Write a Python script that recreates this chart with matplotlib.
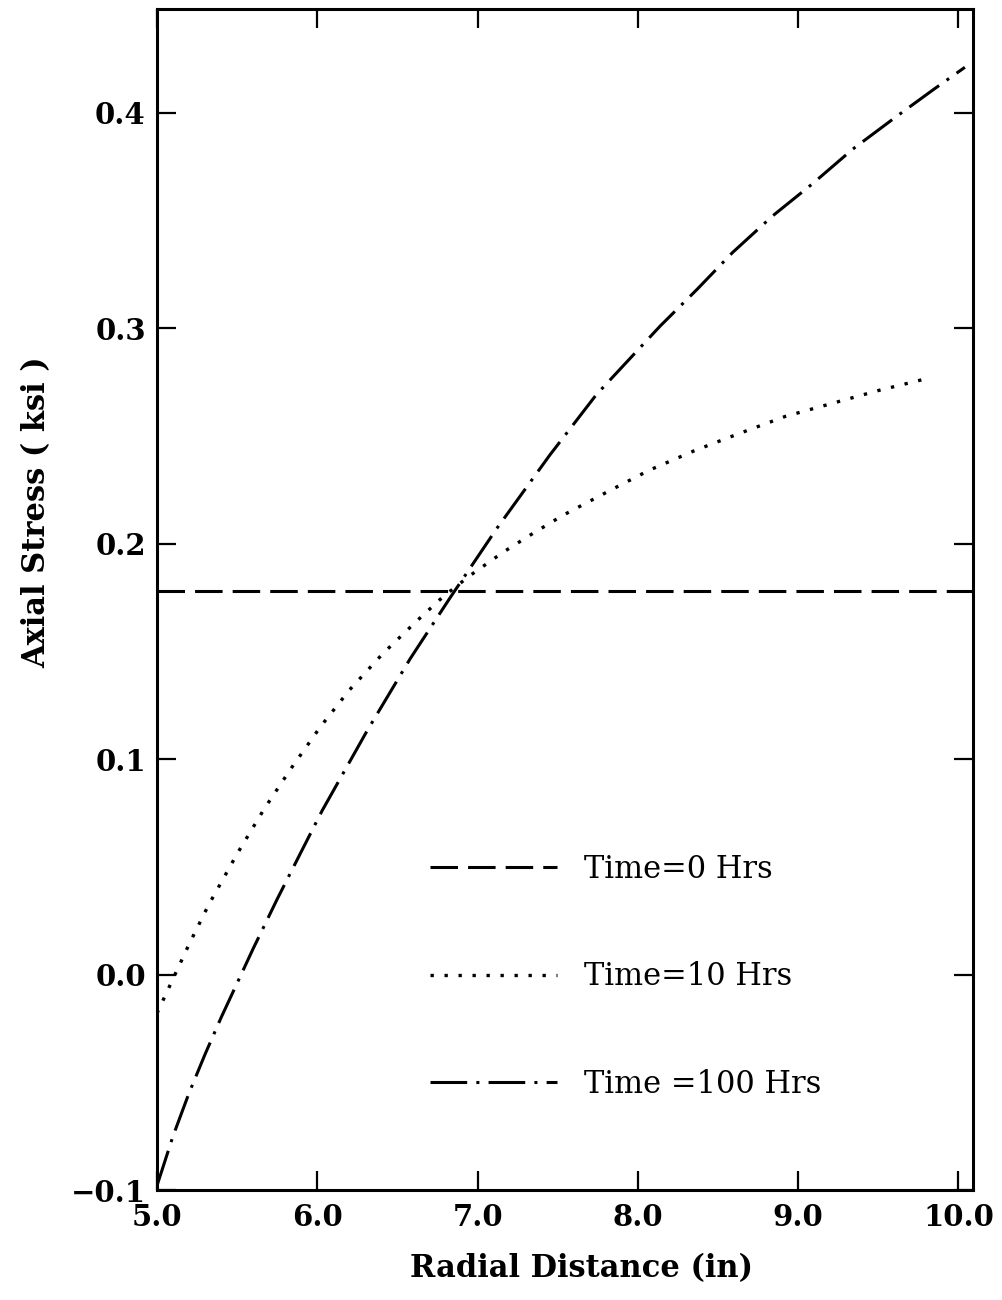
import numpy as np
import matplotlib
matplotlib.use("Agg")
import matplotlib.pyplot as plt

# data
r_0 = [5.0, 10.09]
s_0 = [0.178, 0.178]

r_10 = [5.0, 5.10, 5.20, 5.32, 5.50, 5.67, 5.84, 6.02, 6.20, 6.41, 6.62, 6.78,
        6.95, 7.16, 7.33, 7.53, 7.81, 8.07, 8.35, 8.63, 8.92, 9.21, 9.50, 9.80]
s_10 = [-0.018, -0.002, 0.014, 0.032, 0.056, 0.077, 0.096, 0.115, 0.132, 0.149, 0.164, 0.175,
        0.185, 0.196, 0.204, 0.213, 0.224, 0.234, 0.243, 0.251, 0.259, 0.265, 0.271, 0.2765]

r_100 = [5.0, 5.10, 5.20, 5.30, 5.40, 5.50, 5.60, 5.75, 5.90, 6.03, 6.31, 6.58, 6.83, 7.12,
         7.45, 7.74, 7.99, 8.14, 8.37, 8.59, 8.84, 9.09, 9.34, 9.61, 9.85, 10.04]
s_100 = [-0.098, -0.075, -0.055, -0.037, -0.020, -0.004, 0.012, 0.035, 0.057, 0.076, 0.113, 0.1466,
         0.175, 0.207, 0.241, 0.269, 0.289, 0.301, 0.318, 0.335, 0.352, 0.367, 0.383, 0.398, 0.411, 0.421]

labels = ['Time=0 Hrs', 'Time=10 Hrs', 'Time =100 Hrs']

x_ticks = [5.0, 6.0, 7.0, 8.0, 9.0, 10.0]
x_tick_labels = ['5.0', '6.0', '7.0', '8.0', '9.0', '10.0']
y_ticks = [-0.1, 0.0, 0.1, 0.2, 0.3, 0.4]
y_tick_labels = ['\u22120.1', '0.0', '0.1', '0.2', '0.3', '0.4']

plt.rcParams['font.family'] = ['DejaVu Serif']

fig = plt.figure(figsize=(10.03, 13.0), dpi=100)
ax = fig.add_axes([0.1565, 0.0846, 0.8135, 0.9084])

lw = 2.2
ax.plot(r_0, s_0, color='black', lw=lw, linestyle=(0, (9, 3.3)), label=labels[0])
ax.plot(r_10, s_10, color='black', lw=2.4, linestyle=(0, (1, 3.2)), label=labels[1])
ax.plot(r_100, s_100, color='black', lw=lw, linestyle=(0, (12, 3, 1, 3)), label=labels[2])

ax.set_xlim(5.0, 10.09)
ax.set_ylim(-0.1, 0.448)

ax.set_xticks(x_ticks)
ax.set_xticklabels(x_tick_labels, fontsize=21, fontweight='bold')
ax.set_yticks(y_ticks)
ax.set_yticklabels(y_tick_labels, fontsize=21, fontweight='bold')
ax.tick_params(direction='in', length=14, width=1.6, top=True, right=True)
ax.tick_params(axis='x', pad=9)
ax.tick_params(axis='y', pad=8)

for sp in ax.spines.values():
    sp.set_linewidth(2.2)

ax.set_xlabel('Radial Distance (in)', fontsize=22, fontweight='bold')
ax.xaxis.set_label_coords(0.52, -0.053)
ax.set_ylabel('Axial Stress ( ksi )', fontsize=22, fontweight='bold')
ax.yaxis.set_label_coords(-0.128, 0.574)

ax.legend(loc='upper left', bbox_to_anchor=(0.3346, 0.2847), frameon=False,
          fontsize=22, handlelength=4.15, handletextpad=0.9, labelspacing=2.5,
          borderpad=0, borderaxespad=0)

fig.savefig('out.png', dpi=100)
